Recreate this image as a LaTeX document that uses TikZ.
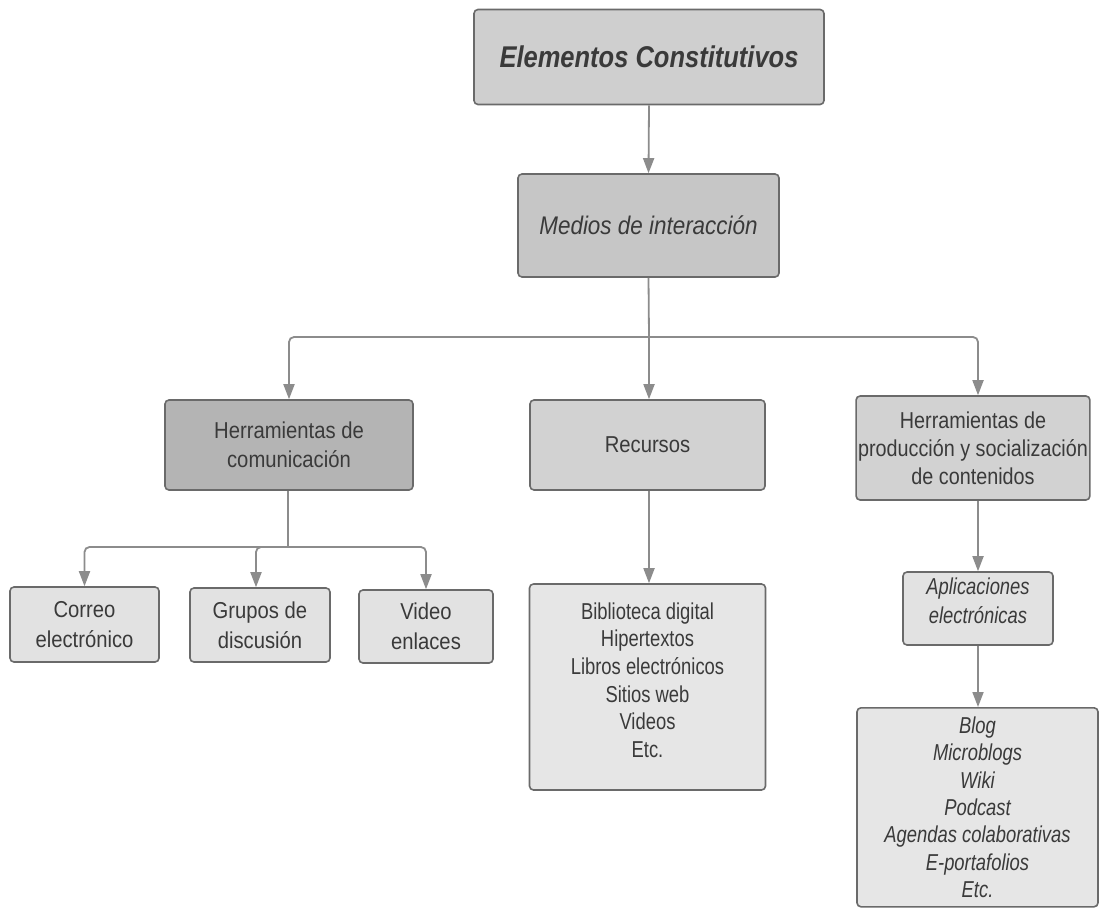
\documentclass[tikz,border=0pt]{standalone}
\usepackage{fontspec}
\setmainfont{Liberation Sans}[FakeStretch=0.88]
\newfontfamily\narrowfam{Liberation Sans}[FakeStretch=0.80]
\newfontfamily\midfam{Liberation Sans}[FakeStretch=0.86]
\newfontfamily\titlefam{Liberation Sans}[FakeStretch=0.85]
\usetikzlibrary{arrows.meta}
\definecolor{txt}{HTML}{3A3A3A}
\definecolor{edge}{HTML}{6A6A6A}
\definecolor{arr}{HTML}{8C8C8C}
\definecolor{fA}{HTML}{CFCFCF}
\definecolor{fB}{HTML}{C6C6C6}
\definecolor{fC}{HTML}{B4B4B4}
\definecolor{fD}{HTML}{D2D2D2}
\definecolor{fE}{HTML}{E2E2E2}
\definecolor{fF}{HTML}{E6E6E6}
\tikzset{
  box/.style={draw=edge, line width=1.6pt, rounded corners=4pt, align=center, text=txt, inner sep=2pt},
  conn/.style={draw=arr, line width=1.8pt, rounded corners=5pt, -{Triangle[length=15pt,width=11pt]}},
  line/.style={draw=arr, line width=1.8pt, rounded corners=5pt},
}
\begin{document}
\begin{tikzpicture}[x=1pt,y=-1pt]
\useasboundingbox[fill=white] (0,0) rectangle (1099,907);
\node[box, fill=fA, minimum width=350pt, minimum height=95pt,
  font=\titlefam\fontsize{30}{34}\selectfont\bfseries\itshape] (top) at (649,57) {Elementos Constitutivos};
\node[box, fill=fB, minimum width=261pt, minimum height=103pt,
  font=\fontsize{25.5}{29}\selectfont\itshape] (med) at (648.5,225.5) {Medios de interacción};
\node[box, fill=fC, minimum width=248pt, minimum height=90pt,
  font=\fontsize{23}{29}\selectfont] (hc) at (289,445) {Herramientas de\\comunicación};
\node[box, fill=fD, minimum width=235pt, minimum height=90pt,
  font=\fontsize{23}{29}\selectfont] (rec) at (647.5,445) {Recursos};
\node[box, fill=fD, minimum width=232pt, minimum height=104pt,
  font=\midfam\fontsize{23}{28}\selectfont] (hp) at (973,448) {Herramientas de\\producción y socialización\\de contenidos};
\node[box, fill=fE, minimum width=149pt, minimum height=75pt,
  font=\fontsize{23}{30}\selectfont] (correo) at (84.5,624.5) {Correo\\electrónico};
\node[box, fill=fE, minimum width=140pt, minimum height=74pt,
  font=\fontsize{23}{30}\selectfont] (grupos) at (260,625) {Grupos de\\discusión};
\node[box, fill=fE, minimum width=134pt, minimum height=73pt,
  font=\fontsize{23}{30}\selectfont] (video) at (426,626.5) {Video\\enlaces};
\node[box, fill=fF, minimum width=236pt, minimum height=206pt, text depth=14pt,
  font=\narrowfam\fontsize{23}{27.7}\selectfont] (lista) at (647.5,687) {Biblioteca digital\\Hipertextos\\Libros electrónicos\\Sitios web\\Videos\\Etc.};
\node[box, fill=fE, minimum width=150pt, minimum height=73pt, text depth=16pt,
  font=\narrowfam\fontsize{23}{29}\selectfont\itshape] (apl) at (978,608.5) {Aplicaciones\\electrónicas};
\node[box, fill=fF, minimum width=241pt, minimum height=199pt, anchor=north,
  font=\narrowfam\fontsize{23}{27.3}\selectfont\itshape] (blog) at (977.5,707) {Blog\\Microblogs\\Wiki\\Podcast\\Agendas colaborativas\\E-portafolios\\Etc.};
\coordinate (j1) at (649,337);
\coordinate (j2) at (288,547);
\draw[conn] (top.south) -- (med.north);
\draw[line] (med.south) -- (j1);
\draw[conn] (j1) -| (hc.north);
\draw[conn] (j1) -- (j1 |- rec.north);
\draw[conn] (j1) -| (hp.north -| apl.north);
\draw[line] (hc.south -| j2) -- (j2);
\draw[conn] (j2) -| (correo.north);
\draw[conn] (j2) -| (grupos.north -| 256,0);
\draw[conn] (j2) -| (video.north);
\draw[conn] (rec.south -| j1) -- (lista.north -| j1);
\draw[conn] (hp.south -| apl) -- (apl.north);
\draw[conn] (apl.south) -- (blog.north -| apl);
\end{tikzpicture}
\end{document}
